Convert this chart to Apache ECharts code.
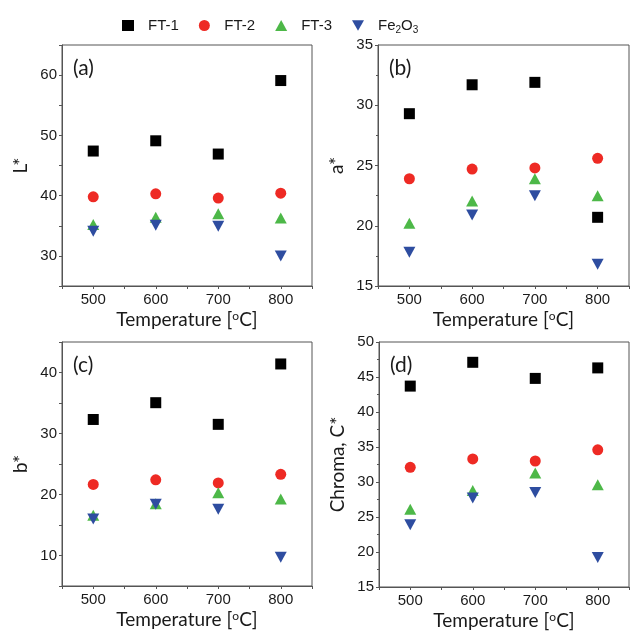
<!DOCTYPE html>
<html>
<head>
<meta charset="utf-8">
<script src="https://cdn.jsdelivr.net/npm/echarts@6/dist/echarts.min.js"></script>
<style>html,body{margin:0;padding:0;background:#fff}#c{width:632px;height:635px}</style>
</head>
<body>
<div id="c"></div>
<script>
const temps = [500, 600, 700, 800];
const seriesNames = ['FT-1', 'FT-2', 'FT-3', 'Fe2O3'];

const L_FT1 = [47.4, 49.1, 46.9, 59.1];
const L_FT2 = [39.8, 40.3, 39.6, 40.4];
const L_FT3 = [35.2, 36.4, 37.0, 36.3];
const L_Fe  = [34.1, 35.1, 34.9, 30.0];

const a_FT1 = [29.3, 31.7, 31.9, 20.7];
const a_FT2 = [23.9, 24.7, 24.8, 25.6];
const a_FT3 = [20.2, 22.05, 23.9, 22.5];
const a_Fe  = [17.8, 20.9, 22.5, 16.8];

const b_FT1 = [32.3, 35.05, 31.5, 41.4];
const b_FT2 = [21.65, 22.4, 21.9, 23.3];
const b_FT3 = [16.6, 18.5, 20.3, 19.25];
const b_Fe  = [16.0, 18.4, 17.6, 9.7];

const C_FT1 = [43.7, 47.1, 44.8, 46.3];
const C_FT2 = [32.1, 33.3, 33.0, 34.6];
const C_FT3 = [26.1, 28.8, 31.3, 29.6];
const C_Fe  = [23.9, 27.7, 28.5, 19.2];

const panels = [
  {label: '(a)', yName: 'L*', yMin: 25, yMax: 65, yLabelStep: 10, minor: false, data: [L_FT1, L_FT2, L_FT3, L_Fe]},
  {label: '(b)', yName: 'a*', yMin: 15, yMax: 35, yLabelStep: 5, minor: true, data: [a_FT1, a_FT2, a_FT3, a_Fe]},
  {label: '(c)', yName: 'b*', yMin: 5, yMax: 45, yLabelStep: 10, minor: false, data: [b_FT1, b_FT2, b_FT3, b_Fe]},
  {label: '(d)', yName: 'Chroma, C*', yMin: 15, yMax: 50, yLabelStep: 5, minor: true, data: [C_FT1, C_FT2, C_FT3, C_Fe]}
];

const grids = [
  {left: 62, top: 45, width: 250, height: 241},
  {left: 378, top: 45, width: 256, height: 241},
  {left: 62, top: 342, width: 250, height: 244},
  {left: 379, top: 342, width: 256, height: 245}
];

const colors = ['#000000', '#ee2a24', '#4db848', '#2e4da0'];
const symbols = ['rect', 'circle', 'triangle', 'path://M0,0L2,0L1,1.732Z'];
const sizes = [11, 11, [12, 11], [12, 11]];
const axisColor = '#555';
const textColor = '#1a1a1a';
const tickFont = 'Liberation Sans';
const titleFont = 'Lato';

const option = {
  backgroundColor: '#fff',
  animation: false,
  legend: {
    data: seriesNames,
    left: 117, top: 13,
    itemWidth: 12, itemHeight: 11, itemGap: 20,
    textStyle: {
      fontFamily: tickFont, fontSize: 15, color: textColor, padding: [0, 0, 0, 9],
      rich: {sub: {fontFamily: tickFont, fontSize: 10, color: textColor, verticalAlign: 'bottom', padding: [10, 0, 0, 0]}}
    },
    formatter: n => n === 'Fe2O3' ? 'Fe{sub|2}O{sub|3}' : n
  },
  grid: grids.map(g => Object.assign({show: true, borderColor: axisColor, borderWidth: 1, backgroundColor: 'transparent'}, g)),
  xAxis: panels.map((p, i) => ({
    gridIndex: i, type: 'value', min: 450, max: 850, interval: 50,
    name: 'Temperature [{sup|o}C]', nameLocation: 'middle', nameGap: 24,
    nameTextStyle: {fontFamily: titleFont, fontSize: 19, color: textColor,
      rich: {sup: {fontFamily: titleFont, fontSize: 12, color: textColor, verticalAlign: 'top', padding: [0, 0, 8, 0]}}},
    axisLine: {show: true, lineStyle: {color: axisColor, width: 1}},
    axisTick: {show: true, inside: false, length: 3, lineStyle: {color: axisColor}},
    splitLine: {show: false},
    axisLabel: {fontFamily: tickFont, fontSize: 15, color: textColor, margin: 6,
      formatter: v => (v % 100 === 0 ? String(v) : '')}
  })),
  yAxis: panels.map((p, i) => ({
    gridIndex: i, type: 'value', min: p.yMin, max: p.yMax, interval: 5,
    name: p.yName, nameLocation: 'middle', nameGap: 32,
    nameTextStyle: {fontFamily: titleFont, fontSize: 19, color: textColor},
    axisLine: {show: true, lineStyle: {color: axisColor, width: 1}},
    axisTick: {show: true, inside: false, length: 3, lineStyle: {color: axisColor}},
    minorTick: {show: p.minor, splitNumber: 2, length: 2, lineStyle: {color: axisColor}},
    splitLine: {show: false}, minorSplitLine: {show: false},
    axisLabel: {fontFamily: tickFont, fontSize: 15, color: textColor, margin: 5,
      formatter: v => (v % p.yLabelStep === 0 ? String(v) : '')}
  })),
  graphic: panels.map((p, i) => ({
    type: 'text', left: grids[i].left + 11, top: grids[i].top + 13,
    style: {text: p.label, font: '21px ' + titleFont, fill: textColor}
  })),
  series: []
};

panels.forEach((p, i) => {
  seriesNames.forEach((n, k) => {
    option.series.push({
      name: n, type: 'scatter', xAxisIndex: i, yAxisIndex: i,
      symbol: symbols[k], symbolSize: sizes[k],
      itemStyle: {color: colors[k], opacity: 1},
      data: temps.map((t, j) => [t, p.data[k][j]])
    });
  });
});

const chart = echarts.init(document.getElementById('c'), null, {renderer: 'canvas'});
chart.setOption(option);
</script>
</body>
</html>
